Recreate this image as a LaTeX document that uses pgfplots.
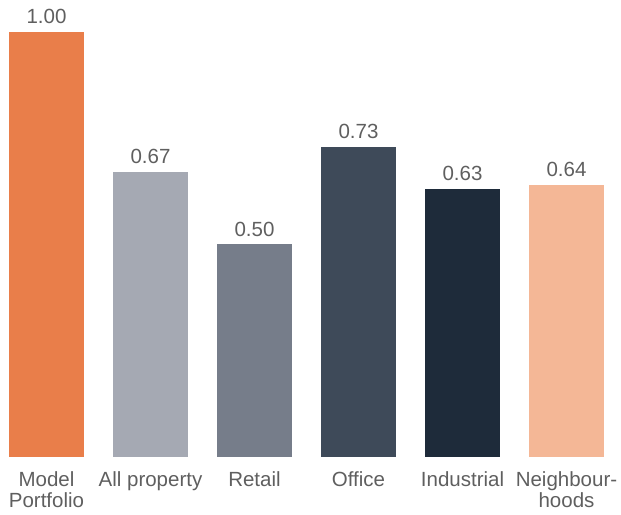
\documentclass[border=0pt]{standalone}
\usepackage{fontspec}
\setmainfont{Liberation Sans}
\usepackage{pgfplots}
\pgfplotsset{compat=1.18}
\definecolor{c1}{HTML}{E97E4A}
\definecolor{c2}{HTML}{A5A9B3}
\definecolor{c3}{HTML}{767D8A}
\definecolor{c4}{HTML}{3E4A59}
\definecolor{c5}{HTML}{1E2B3A}
\definecolor{c6}{HTML}{F4B796}
\definecolor{txt}{HTML}{5F5F5F}
\begin{document}
\begin{tikzpicture}
\begin{axis}[
  name=ax,
  scale only axis,
  width=621pt, height=457pt,
  xmin=-0.447, xmax=5.524,
  ymin=0, ymax=1.0753,
  axis line style={draw=none},
  ytick=\empty,
  xtick={0,1,2,3,4,5},
  xticklabels={{Model\\Portfolio},{All property},{Retail},{Office},{Industrial},{Neighbour-\\hoods}},
  major tick length=0pt,
  xticklabel style={align=center, anchor=north, inner sep=0pt, yshift=-14pt,
    font=\fontsize{20.5}{21.5}\selectfont, text=txt},
  ybar, bar width=75pt, bar shift=0pt,
  nodes near coords,
  /pgf/number format/fixed,
  /pgf/number format/fixed zerofill,
  /pgf/number format/precision=2,
  /pgf/number format/assume math mode=true,
  nodes near coords style={font=\fontsize{20.5}{22}\selectfont, text=txt,
    anchor=south, inner sep=0pt, yshift=8pt},
  clip=false,
]
\addplot[fill=c1, draw=none] coordinates {(0,1.00)};
\addplot[fill=c2, draw=none] coordinates {(1,0.67)};
\addplot[fill=c3, draw=none] coordinates {(2,0.50)};
\addplot[fill=c4, draw=none] coordinates {(3,0.73)};
\addplot[fill=c5, draw=none] coordinates {(4,0.63)};
\addplot[fill=c6, draw=none] coordinates {(5,0.64)};
\end{axis}
\pgfresetboundingbox
\path (ax.south west) ++(0,-58pt) rectangle (ax.north east);
\end{tikzpicture}
\end{document}
